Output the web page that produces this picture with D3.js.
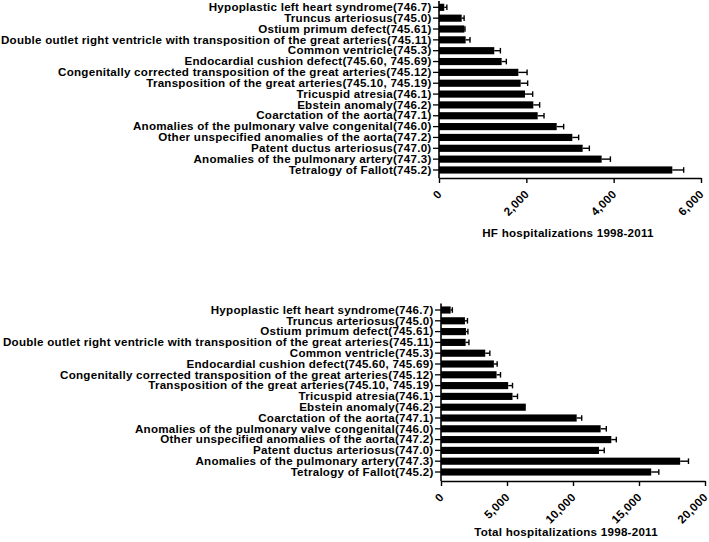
<!DOCTYPE html>
<html><head><meta charset="utf-8">
<script src="https://cdn.jsdelivr.net/npm/d3@7"></script>
<style>
body{margin:0;background:#fff;}
svg{display:block;font-family:"Liberation Sans",Arial,sans-serif;font-weight:bold;}
</style></head><body>
<svg id="c" width="709" height="542"></svg>
<script>
const categories = [
  "Hypoplastic left heart syndrome(746.7)",
  "Truncus arteriosus(745.0)",
  "Ostium primum defect(745.61)",
  "Double outlet right ventricle with transposition of the great arteries(745.11)",
  "Common ventricle(745.3)",
  "Endocardial cushion defect(745.60, 745.69)",
  "Congenitally corrected transposition of the great arteries(745.12)",
  "Transposition of the great arteries(745.10, 745.19)",
  "Tricuspid atresia(746.1)",
  "Ebstein anomaly(746.2)",
  "Coarctation of the aorta(747.1)",
  "Anomalies of the pulmonary valve congenital(746.0)",
  "Other unspecified anomalies of the aorta(747.2)",
  "Patent ductus arteriosus(747.0)",
  "Anomalies of the pulmonary artery(747.3)",
  "Tetralogy of Fallot(745.2)"
];
const hfValues = [120, 520, 580, 610, 1266, 1435, 1817, 1870, 1969, 2160, 2260, 2695, 3053, 3290, 3725, 5343];
const hfErrors = [60, 55, 15, 100, 140, 107, 200, 160, 176, 145, 145, 160, 145, 153, 200, 260];
const hfTicks = [0, 2000, 4000, 6000];
const hfTitle = "HF hospitalizations 1998-2011";

const totalValues = [730, 1814, 1890, 1866, 3350, 4006, 4208, 5088, 5416, 6425, 10280, 12094, 12902, 11966, 18118, 15925];
const totalErrors = [130, 190, 150, 250, 350, 250, 300, 330, 380, 0, 380, 430, 380, 400, 630, 575];
const totalTicks = [0, 5000, 10000, 15000, 20000];
const totalTitle = "Total hospitalizations 1998-2011";

const svg = d3.select("#c");
const fmt = d3.format(",");
const FS = "11.6px";
const LS = "0.25px";
const FF = '"Liberation Sans",Arial,sans-serif';

function panel(cfg){
  const g = svg.append("g");
  const x = d3.scaleLinear().domain([0, cfg.max]).range([cfg.x0, cfg.x1]);
  const y = d3.scaleBand().domain(categories).range([cfg.yTop, cfg.yBot]).paddingInner(0.34).paddingOuter(0.17);
  g.selectAll("rect.bar").data(cfg.values).join("rect")
    .attr("x", x(0)).attr("y", (d,i)=>y(categories[i]))
    .attr("width", d=>x(d)-x(0)).attr("height", y.bandwidth())
    .attr("fill", "#000");
  const eg = g.append("g").attr("stroke","#000").attr("stroke-width",1.4);
  cfg.values.forEach((v,i)=>{
    const e = cfg.errors[i];
    if(!e) return;
    const cy = y(categories[i]) + y.bandwidth()/2;
    eg.append("line").attr("x1", x(v)).attr("x2", x(v+e)).attr("y1", cy).attr("y2", cy);
    eg.append("line").attr("x1", x(v+e)).attr("x2", x(v+e)).attr("y1", cy-2.8).attr("y2", cy+2.8);
  });
  const ya = g.append("g").attr("transform", `translate(${x(0)},0)`)
    .call(d3.axisLeft(y).tickSize(6).tickPadding(1.5).tickSizeOuter(0));
  ya.select(".domain").attr("stroke-width",1.6).attr("d", `M0,${cfg.yTop-1}V${cfg.axisY}`);
  ya.selectAll(".tick line").attr("stroke-width",1.3);
  ya.selectAll("text").attr("font-size",FS).attr("letter-spacing",LS).attr("font-weight","bold").attr("fill","#000")
    .attr("font-family", FF);
  const xa = g.append("g").attr("transform", `translate(0,${cfg.axisY})`)
    .call(d3.axisBottom(x).tickValues(cfg.ticks).tickFormat(fmt).tickSize(5).tickSizeOuter(0));
  xa.select(".domain").attr("stroke-width",1.6);
  xa.selectAll(".tick line").attr("stroke-width",1.4);
  xa.selectAll("text").attr("font-size",FS).attr("letter-spacing",LS).attr("font-weight","bold").attr("fill","#000")
    .attr("font-family", FF)
    .attr("text-anchor","end").attr("dy",null).attr("y",null)
    .attr("transform","translate(3,17) rotate(-45)");
  g.append("text").attr("x", cfg.titleX).attr("y", cfg.titleY).attr("text-anchor","middle")
    .attr("font-size",FS).attr("letter-spacing",LS).attr("font-weight","bold").attr("fill","#000").text(cfg.title);
}

panel({values: hfValues, errors: hfErrors, ticks: hfTicks, max: 6000, x0: 439, x1: 701,
  yTop: 1.9, yBot: 175.4, axisY: 178, title: hfTitle, titleX: 568, titleY: 237});
panel({values: totalValues, errors: totalErrors, ticks: totalTicks, max: 20000, x0: 441, x1: 705,
  yTop: 304.6, yBot: 477.4, axisY: 481, title: totalTitle, titleX: 566, titleY: 536});
</script></body></html>
